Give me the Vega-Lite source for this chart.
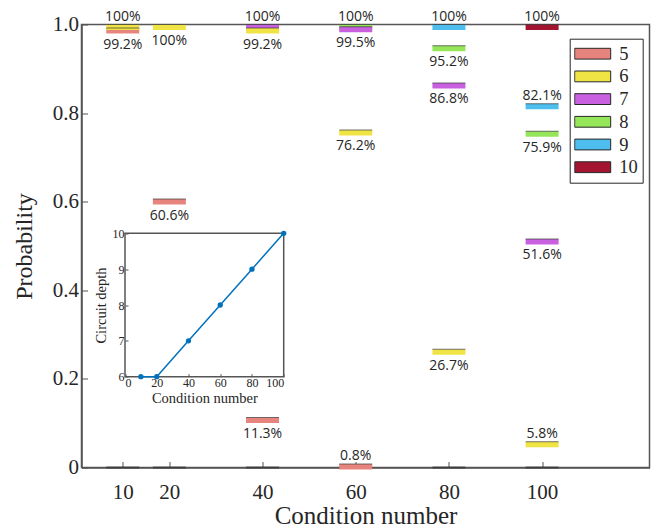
{
  "$schema": "https://vega.github.io/schema/vega-lite/v6.json",
  "width": 568,
  "height": 443,
  "autosize": {"type": "none"},
  "padding": {"left": 81.5, "top": 24.5, "right": 6.5, "bottom": 62.5},
  "background": "white",
  "config": {
    "view": {"stroke": "#555555", "strokeWidth": 1.5},
    "font": "Liberation Serif"
  },
  "datasets": {
    "probs": [
      {"cond": 10, "depth": 5, "p": 0.992},
      {"cond": 10, "depth": 6, "p": 1.0},
      {"cond": 20, "depth": 5, "p": 0.606},
      {"cond": 20, "depth": 6, "p": 1.0},
      {"cond": 40, "depth": 5, "p": 0.113},
      {"cond": 40, "depth": 7, "p": 1.0},
      {"cond": 40, "depth": 6, "p": 0.992},
      {"cond": 60, "depth": 5, "p": 0.008},
      {"cond": 60, "depth": 6, "p": 0.762},
      {"cond": 60, "depth": 8, "p": 1.0},
      {"cond": 60, "depth": 7, "p": 0.995},
      {"cond": 80, "depth": 6, "p": 0.267},
      {"cond": 80, "depth": 7, "p": 0.868},
      {"cond": 80, "depth": 8, "p": 0.952},
      {"cond": 80, "depth": 9, "p": 1.0},
      {"cond": 100, "depth": 6, "p": 0.058},
      {"cond": 100, "depth": 7, "p": 0.516},
      {"cond": 100, "depth": 8, "p": 0.759},
      {"cond": 100, "depth": 9, "p": 0.821},
      {"cond": 100, "depth": 10, "p": 1.0}
    ],
    "base": [
      {"cond": 10, "p": 0},
      {"cond": 20, "p": 0},
      {"cond": 40, "p": 0},
      {"cond": 60, "p": 0},
      {"cond": 80, "p": 0},
      {"cond": 100, "p": 0}
    ],
    "inset": [
      {"cond": 10, "depth": 6},
      {"cond": 20, "depth": 6},
      {"cond": 40, "depth": 7},
      {"cond": 60, "depth": 8},
      {"cond": 80, "depth": 9},
      {"cond": 100, "depth": 10}
    ]
  },
  "layer": [
    {
      "layer": [
        {
          "data": {"name": "base"},
          "mark": {"type": "tick", "orient": "horizontal", "size": 33, "thickness": 2, "color": "#333333"},
          "encoding": {
            "x": {
              "field": "cond", "type": "quantitative", "title": "Condition number",
              "scale": {"domain": [1.14, 123.05], "nice": false, "zero": false},
              "axis": {
                "orient": "bottom",
                "values": [10, 20, 40, 60, 80, 100],
                "grid": false,
                "labelFont": "Liberation Serif", "labelFontSize": 21, "labelColor": "#262626",
                "labelPadding": 20,
                "domainColor": "#555555", "domainWidth": 1.5,
                "tickColor": "#555555", "tickSize": -6, "tickWidth": 1,
                "titleFont": "Liberation Serif", "titleFontSize": 25, "titleFontWeight": "normal",
                "titleColor": "#262626", "titlePadding": 1
              }
            },
            "y": {
              "field": "p", "type": "quantitative", "title": "Probability",
              "scale": {"domain": [0, 1], "nice": false},
              "axis": {
                "orient": "left",
                "values": [0, 0.2, 0.4, 0.6, 0.8, 1.0],
                "labelExpr": "datum.value == 0 ? '0' : format(datum.value, '.1f')",
                "grid": false,
                "labelFont": "Liberation Serif", "labelFontSize": 21, "labelColor": "#262626",
                "labelPadding": 9,
                "domainColor": "#555555", "domainWidth": 1.5,
                "tickColor": "#555555", "tickSize": -6, "tickWidth": 1,
                "titleFont": "Liberation Serif", "titleFontSize": 24, "titleFontWeight": "normal",
                "titleColor": "#262626", "titlePadding": 16
              }
            }
          }
        },
        {
          "data": {"name": "probs"},
          "mark": {"type": "tick", "orient": "horizontal", "size": 33, "thickness": 5.5, "yOffset": 2.75, "opacity": 1},
          "encoding": {
            "x": {"field": "cond", "type": "quantitative", "title": "Condition number", "scale": {"domain": [1.14, 123.05], "nice": false, "zero": false}},
            "y": {"field": "p", "type": "quantitative", "title": "Probability", "scale": {"domain": [0, 1], "nice": false}},
            "color": {
              "field": "depth", "type": "nominal",
              "scale": {"domain": [5, 6, 7, 8, 9, 10], "range": ["#E8847E", "#F0E445", "#C860E0", "#96E65A", "#4DBEEE", "#A2142F"]},
              "legend": {
                "title": null,
                "orient": "none", "legendX": 488.2, "legendY": 14.2,
                "direction": "vertical",
                "strokeColor": "#262626", "fillColor": "white", "padding": 4.5,
                "symbolType": "M-1,-0.3H1V0.3H-1Z", "symbolSize": 1296,
                "symbolStrokeColor": "#262626", "symbolStrokeWidth": 1, "symbolOpacity": 1,
                "labelFont": "Liberation Serif", "labelFontSize": 18.5, "labelColor": "#262626",
                "labelOffset": 8, "clipHeight": 21, "rowPadding": 1.7
              }
            }
          }
        },
        {
          "data": {"name": "probs"},
          "mark": {"type": "tick", "orient": "horizontal", "size": 33, "thickness": 1, "color": "#3a3a3a"},
          "encoding": {
            "x": {"field": "cond", "type": "quantitative", "title": "Condition number", "scale": {"domain": [1.14, 123.05], "nice": false, "zero": false}},
            "y": {"field": "p", "type": "quantitative", "title": "Probability", "scale": {"domain": [0, 1], "nice": false}}
          }
        },
        {
          "data": {"name": "probs"},
          "transform": [{"filter": "(datum.p == 1 && datum.cond != 20) || datum.p < 0.1 || (datum.cond == 100 && datum.depth == 9)"}],
          "mark": {"type": "text", "font": "Open Sans", "fontSize": 14, "color": "#262626", "align": "center", "baseline": "alphabetic", "dy": -4},
          "encoding": {
            "x": {"field": "cond", "type": "quantitative", "title": "Condition number", "scale": {"domain": [1.14, 123.05], "nice": false, "zero": false}},
            "y": {"field": "p", "type": "quantitative", "title": "Probability", "scale": {"domain": [0, 1], "nice": false}},
            "text": {"field": "p", "type": "quantitative", "format": ".1~%"}
          }
        },
        {
          "data": {"name": "probs"},
          "transform": [{"filter": "!((datum.p == 1 && datum.cond != 20) || datum.p < 0.1 || (datum.cond == 100 && datum.depth == 9))"}],
          "mark": {"type": "text", "font": "Open Sans", "fontSize": 14, "color": "#262626", "align": "center", "baseline": "alphabetic", "dy": 20.5},
          "encoding": {
            "x": {"field": "cond", "type": "quantitative", "title": "Condition number", "scale": {"domain": [1.14, 123.05], "nice": false, "zero": false}},
            "y": {"field": "p", "type": "quantitative", "title": "Probability", "scale": {"domain": [0, 1], "nice": false}},
            "text": {"field": "p", "type": "quantitative", "format": ".1~%"}
          }
        }
      ]
    },
    {
      "layer": [
        {
          "data": {"values": [{"x0": 0, "x1": 100, "y0": 6, "y1": 10}]},
          "mark": {"type": "rect", "fill": null, "fillOpacity": 0, "stroke": "#555555", "strokeWidth": 1.5},
          "encoding": {
            "x": {
              "field": "x0", "type": "quantitative", "title": "Condition number",
              "scale": {"domain": [0, 100], "range": [43.5, 202.2], "nice": false, "zero": false},
              "axis": {
                "orient": "bottom", "offset": -90.8,
                "values": [0, 20, 40, 60, 80, 100],
                "format": "d",
                "grid": false, "domain": false,
                "labelFont": "Liberation Serif", "labelFontSize": 12, "labelColor": "#262626",
                "labelPadding": 4,
                "tickColor": "#555555", "tickSize": -3, "tickWidth": 1,
                "titleFont": "Liberation Serif", "titleFontSize": 14.5, "titleFontWeight": "normal",
                "titleColor": "#262626", "titlePadding": 3
              }
            },
            "x2": {"field": "x1"},
            "y": {
              "field": "y0", "type": "quantitative", "title": "Circuit depth",
              "scale": {"domain": [6, 10], "range": [352.2, 208.8], "nice": false, "zero": false},
              "axis": {
                "orient": "left", "offset": -43.5,
                "values": [6, 7, 8, 9, 10],
                "format": "d",
                "grid": false, "domain": false,
                "labelFont": "Liberation Serif", "labelFontSize": 12, "labelColor": "#262626",
                "labelPadding": 4,
                "tickColor": "#555555", "tickSize": -3, "tickWidth": 1,
                "titleFont": "Liberation Serif", "titleFontSize": 14.5, "titleFontWeight": "normal",
                "titleColor": "#262626", "titlePadding": 4
              }
            },
            "y2": {"field": "y1"}
          }
        },
        {
          "data": {"name": "inset"},
          "mark": {"type": "line", "color": "#0072BD", "strokeWidth": 1.5},
          "encoding": {
            "x": {"field": "cond", "type": "quantitative", "title": "Condition number", "scale": {"domain": [0, 100], "range": [43.5, 202.2], "nice": false, "zero": false}},
            "y": {"field": "depth", "type": "quantitative", "title": "Circuit depth", "scale": {"domain": [6, 10], "range": [352.2, 208.8], "nice": false, "zero": false}}
          }
        },
        {
          "data": {"name": "inset"},
          "mark": {"type": "point", "filled": true, "shape": "circle", "size": 28, "color": "#0072BD", "opacity": 1},
          "encoding": {
            "x": {"field": "cond", "type": "quantitative", "title": "Condition number", "scale": {"domain": [0, 100], "range": [43.5, 202.2], "nice": false, "zero": false}},
            "y": {"field": "depth", "type": "quantitative", "title": "Circuit depth", "scale": {"domain": [6, 10], "range": [352.2, 208.8], "nice": false, "zero": false}}
          }
        }
      ]
    }
  ],
  "resolve": {"scale": {"x": "independent", "y": "independent"}, "axis": {"x": "independent", "y": "independent"}}
}
